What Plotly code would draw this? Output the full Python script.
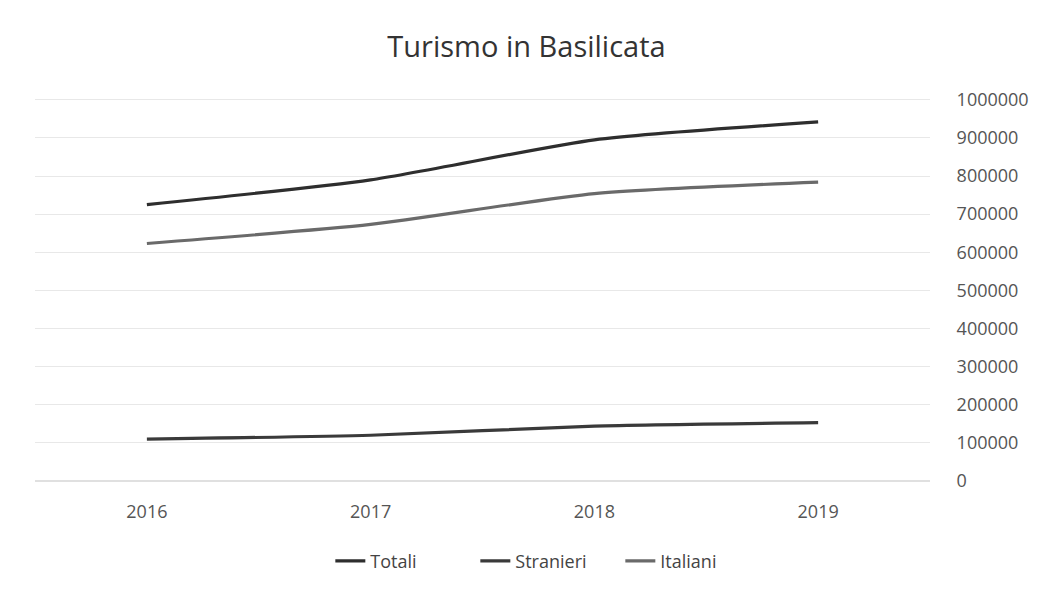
import plotly.graph_objects as go

anni = ["2016", "2017", "2018", "2019"]
totali = [725000, 790000, 895000, 942000]
stranieri = [110000, 120000, 144000, 153000]
italiani = [623000, 673000, 754000, 784000]
y_ticks = [0, 100000, 200000, 300000, 400000, 500000, 600000, 700000, 800000, 900000, 1000000]

fig = go.Figure()
series = [("Totali", totali, "#2e2e2e"), ("Stranieri", stranieri, "#3a3a3a"), ("Italiani", italiani, "#6a6a6a")]
for name, vals, col in series:
    fig.add_trace(go.Scatter(x=anni, y=vals, name=name, mode="lines",
                             line=dict(color=col, width=3.2, shape="spline", smoothing=0.6)))

fig.update_layout(
    autosize=False,
    width=1037, height=596,
    paper_bgcolor="white", plot_bgcolor="white",
    margin=dict(l=27, r=115, t=88, b=123, autoexpand=False),
    font=dict(family="Open Sans", color="#555555"),
    title=dict(text="Turismo in Basilicata", x=0.5, xanchor="center", y=0.935, yanchor="middle",
               font=dict(size=29, color="#333333", family="Open Sans")),
    showlegend=True,
    legend=dict(orientation="h", x=0.573, xanchor="center", y=-0.16, yanchor="top",
                font=dict(size=18, color="#444444"), entrywidth=100, entrywidthmode="pixels"),
    xaxis=dict(type="category", range=[-0.5, 3.5], showgrid=False, zeroline=False,
               showline=False, ticks="outside", ticklen=14, tickcolor="white",
               tickfont=dict(size=18, color="#555555")),
    yaxis=dict(side="right", range=[0, 1010000], tickvals=y_ticks, ticktext=[str(v) for v in y_ticks],
               showgrid=True, gridcolor="#e8e8e8", gridwidth=1, zeroline=True, zerolinecolor="#e0e0e0",
               ticks="outside", ticklen=22, tickcolor="white",
               tickfont=dict(size=18, color="#555555")),
)
fig.write_html("out.html")
